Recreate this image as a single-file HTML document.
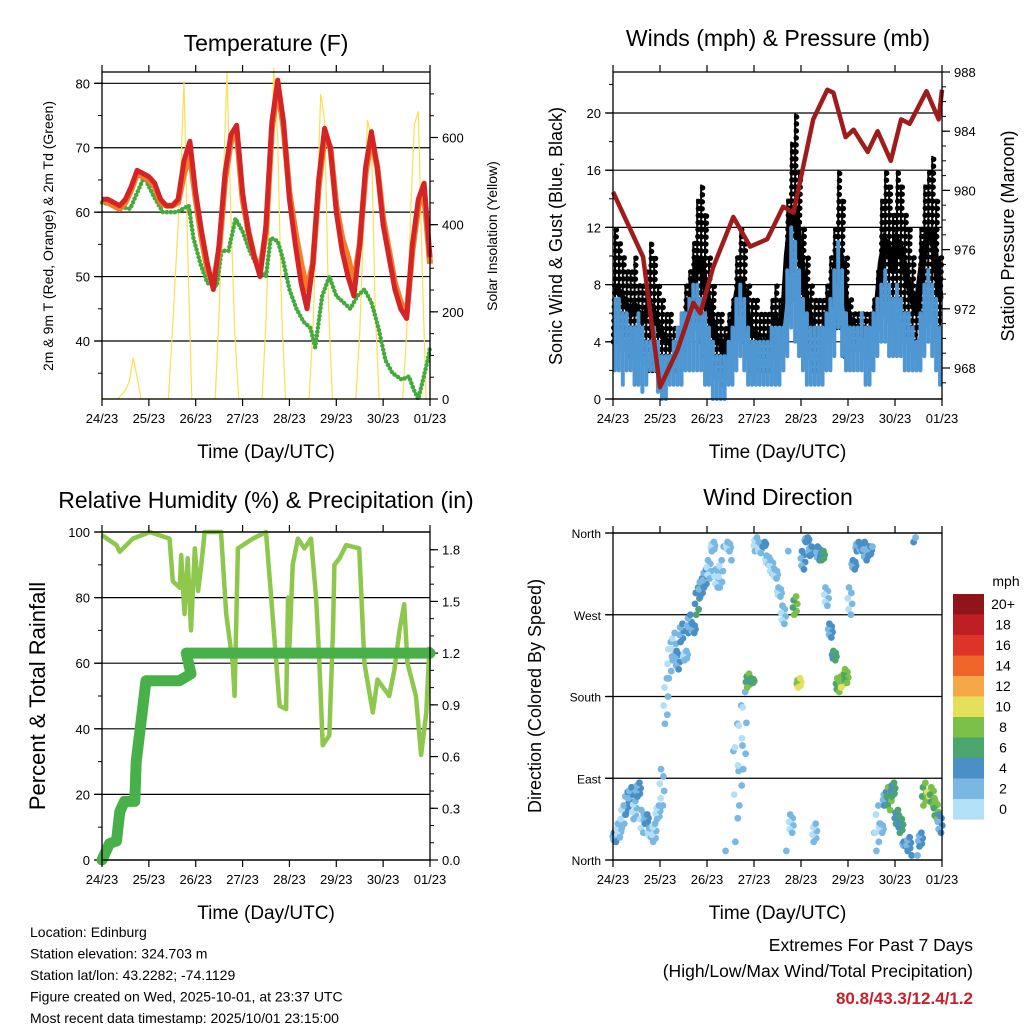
<!DOCTYPE html>
<html><head><meta charset="utf-8"><style>
html,body{margin:0;padding:0;background:#fff;}
svg{display:block;font-family:"Liberation Sans",Arial,sans-serif;}
</style></head><body>
<svg id="c" width="1024" height="1024" viewBox="0 0 1024 1024" xmlns="http://www.w3.org/2000/svg">
<rect width="1024" height="1024" fill="#fff"/>
<g id="g"></g>
</svg>
<script>
// ---------- DATA ----------
const dayLabels = ["24/23","25/23","26/23","27/23","28/23","29/23","30/23","01/23"];
const temp9m = [62,62,61.5,61,62,64,66.5,66,65.5,64.5,62,61,61,62,68,71,63,57,52,48,55,66,72,73.5,63,57,53,50,58,74,80.5,74,62,55,49,45,52,65,73,70,60,54,50,47,55,67,72.5,67,58,53,48,45,43.5,55,62,64.5,53];
const temp2m = [62,61.5,61,60.5,61.5,63.5,66,65.5,65,64,61.5,61,61,61.5,66,69,62,56,51,49,54,65,71,72.5,62,57,53,51,57,73,79.5,73,63,57,52,48,52,64,72,70,61,56,53,49,55,66,71.5,67,59,54,49,46,44,54,61,63,52];
const dewT = [0,0.3,0.6,0.9,1.1,1.3,1.6,1.85,1.95,2.1,2.25,2.45,2.55,2.7,2.85,3.0,3.15,3.35,3.5,3.6,3.75,3.85,4.0,4.15,4.3,4.45,4.55,4.7,4.85,5.0,5.15,5.3,5.45,5.6,5.75,5.9,6.05,6.2,6.4,6.55,6.65,6.75,6.85,6.95,7.0];
const dewV = [61.5,61,60.5,65.5,62.5,60,60,61,56,52,49,48.5,54,54,59,57,54,51,50,56,55.5,53,48,45,43,42,39,47,50,47,46,45,47,48,46,42,37,35,34,34.5,32.5,31,34,37,39];
const solar = [
 0,0,0,0,0,10,20,40,95,50,0,0,
 0,0,0,0,0,0,150,320,480,730,320,0,
 0,0,0,0,0,0,200,480,750,420,150,0,
 0,0,0,0,0,0,180,450,760,600,200,0,
 0,0,0,0,0,0,160,420,700,640,220,0,
 0,0,0,0,0,0,150,400,640,600,200,0,
 0,0,0,0,0,0,150,420,630,660,300,0,0];
const gustHi = [12,11,10,9,9,10,8,8,9,11,10,8, 7,6,6,5,5,6,8,9,11,14,15,13, 10,8,6,6,5,6,7,10,12,11,8,7, 7,6,6,6,7,8,7,8,14,18,20,16, 12,10,8,7,7,7,8,10,12,16,14,10, 7,6,6,6,6,6,7,9,14,16,15,13, 16,15,13,12,10,8,12,15,16,17,14,10];
const gustLo = [4,4,4,4,3,3,4,3,3,2,2,2, 2,2,2,2,2,3,3,4,5,5,4,3, 3,2,2,2,1,2,3,4,5,4,3,2, 2,2,2,2,2,3,2,3,6,7,7,6, 5,3,3,2,2,2,3,4,5,5,5,3, 4,4,4,4,3,3,4,4,5,6,6,5, 6,6,5,4,4,4,5,6,7,6,5,4];
const windHi = [7,7,6,6,5,5,6,5,4,4,5,4, 3,3,3,4,5,6,6,7,8,8,7,6, 5,4,3,3,3,4,5,7,8,7,5,4, 4,4,4,4,5,5,5,5,9,12,11,9, 7,6,5,5,5,5,6,7,9,11,9,6, 5,5,5,6,5,5,6,7,8,9,8,7, 8,7,6,6,5,4,6,8,9,8,7,5];
const windLo = [2,2,1,2,2,1,1,0.5,1,2,2,0.5, 0,0,1,1,1,1,2,2,2,2,2,1, 1,0,0,0,0,1,1,2,3,2,1,1, 1,1,1,1,1,1,1,2,3,5,4,3, 2,1,1,1,1,1,2,2,3,5,3,2, 2,2,2,2,1,1,2,3,4,4,3,3, 3,3,2,2,2,2,2,3,4,3,2,1];
const presT = [0,0.64,1.0,1.37,1.71,1.86,2.13,2.56,2.92,3.28,3.62,3.84,4.26,4.56,4.69,4.95,5.12,5.42,5.63,5.91,6.13,6.31,6.67,6.93,7.0];
const presV = [979.9,975.5,966.7,969.2,972.4,971.7,974.8,978.2,976.2,976.7,978.9,978.5,984.8,986.8,986.6,983.6,984.1,982.6,984.0,982.0,984.8,984.5,986.7,984.8,986.8];
const rhT = [0,.31,.38,.66,1.02,1.44,1.51,1.66,1.69,1.76,1.83,1.90,1.98,2.05,2.12,2.19,2.54,2.65,2.79,2.83,2.90,3.22,3.50,3.61,3.72,3.79,3.93,3.97,4.00,4.07,4.18,4.32,4.46,4.57,4.64,4.71,4.85,4.93,4.96,5.07,5.21,5.49,5.60,5.78,5.88,6.13,6.24,6.35,6.45,6.52,6.70,6.81,6.92,6.99];
const rhV = [99,96,94,98,100,98,85,83,93,75,92,70,95,82,90,100,100,75,60,50,95,98,100,80,60,47,46,80,65,90,98,95,98,80,60,35,38,70,90,92,96,95,60,45,55,50,58,70,78,60,50,32,45,65];
const prT = [0,0.16,0.31,0.38,0.48,0.70,0.73,0.84,0.94,1.65,1.9,1.8,7.0];
const prV = [0,0.095,0.11,0.28,0.34,0.34,0.57,0.82,1.04,1.04,1.08,1.2,1.2];
const dir1 = [30,40,35,50,60,45,70,55,40,35,20,45, 100,150,200,220,230,240,220,250,260,270,290,300, 330,340,320,300,345,350,330,20,60,100,190,200, 340,350,345,335,330,320,300,280,10,50,270,190, 340,350,335,20,345,330,300,260,230,200,190,210, 300,330,340,345,350,335,345,10,40,60,80,70, 40,30,20,10,5,355,15,60,75,80,65,50];
const dir2 = [20,25,60,75,80,65,85,30,50,25,40,60, 60,200,240,250,210,260,230,270,250,300,310,320, 310,350,300,330,10,340,120,150,170,185,205,195, 355,338,350,325,315,310,290,260,340,30,290,200, 320,355,345,40,330,340,280,245,220,185,205,195, 270,320,350,340,330,345,30,60,30,75,55,85, 55,45,15,25,350,5,30,85,70,60,45,30];
const dirSpd = [4,3,3,4,5,3,4,3,4,2,3,3, 2,3,3,3,4,4,3,4,5,6,5,5, 3,3,2,3,2,3,2,2,3,3,8,7, 3,3,4,3,3,3,3,2,2,3,9,10, 4,5,4,3,4,6,3,4,6,9,10,8, 3,4,4,4,4,4,2,3,3,4,8,7, 7,6,5,4,4,3,4,8,10,9,8,5];
const spdLabels = ["20+","18","16","14","12","10","8","6","4","2","0"];
const spdColors = ["#901518","#be1e24","#dc3428","#f0652a","#f5a845","#e5e05a","#7cc04a","#4aa56f","#4a8fc5","#7ab8e4","#b3e0f7"];

// ---------- HELPERS ----------
const NS="http://www.w3.org/2000/svg";
const G=document.getElementById('g');
function mk(tag,attrs,parent){const e=document.createElementNS(NS,tag);for(const k in attrs)e.setAttribute(k,attrs[k]);(parent||G).appendChild(e);return e;}
function txt(s,x,y,size,anchor,extra){const e=mk('text',Object.assign({x:x,y:y,'font-size':size,'text-anchor':anchor||'middle',fill:'#000'},extra||{}));e.textContent=s;return e;}
function lin(a,b,c,d){return v=>c+(v-a)*(d-c)/(b-a);}
function poly(pts,attrs){return mk('polyline',Object.assign({points:pts.map(p=>p[0].toFixed(1)+','+p[1].toFixed(1)).join(' '),fill:'none'},attrs));}

function frame(P,name){
  const r=mk('rect',{x:P.x0,y:P.y0,width:P.x1-P.x0,height:P.y1-P.y0,fill:'none',stroke:'#000','stroke-width':1.3});
  
  
  const sx=lin(0,7,P.x0,P.x1);
  for(let i=0;i<=7;i++){
    const x=sx(i);
    mk('line',{x1:x,y1:P.y1,x2:x,y2:P.y1+7,stroke:'#000','stroke-width':1.2});
    mk('line',{x1:x,y1:P.y0,x2:x,y2:P.y0-7,stroke:'#000','stroke-width':1.2});
    const t=txt(dayLabels[i],x,P.y1+24,13);
    
    
  }
  const xt=txt('Time (Day/UTC)',(P.x0+P.x1)/2,P.y1+59,19);
  
  
}
function yaxis(P,side,sy,majors,labels,minors,grid,size){
  const x=side==='l'?P.x0:P.x1, d=side==='l'?-1:1;
  minors.forEach(v=>mk('line',{x1:x,y1:sy(v),x2:x+d*4,y2:sy(v),stroke:'#000','stroke-width':1}));
  majors.forEach((v,i)=>{
    const y=sy(v);
    mk('line',{x1:x,y1:y,x2:x+d*8,y2:y,stroke:'#000','stroke-width':1.2});
    if(grid) mk('line',{x1:P.x0-7,y1:y,x2:P.x1,y2:y,stroke:'#000','stroke-width':1.2});
    const t=txt(labels[i],x+d*12,y+5,size||13,side==='l'?'end':'start');
    
    
  });
}
function rng(a,b,s){const r=[];for(let v=a;v<=b+1e-9;v+=s)r.push(+v.toFixed(4));return r;}

// ---------- PANEL 1: TEMPERATURE ----------
(function(){
  const P={x0:102,x1:430,y0:72,y1:399};
  const sx=lin(0,7,P.x0,P.x1), sy=lin(80,40,83.3,341), sr=lin(0,600,399,137.5);
  const t=txt('Temperature (F)',266,51,23);  
  yaxis(P,'l',sy,[40,50,60,70,80],['40','50','60','70','80'],rng(35,80,5),true);
  yaxis(P,'r',sr,[0,200,400,600],['0','200','400','600'],rng(0,700,50),false);
  const sp=poly(solar.map((v,i)=>[sx(i/12),sr(v)]),{stroke:'#f9df55','stroke-width':1.2});
   
  const dp=poly(dewT.map((v,i)=>[sx(v),sy(dewV[i])]),{stroke:'#44aa3c','stroke-width':4.5,'stroke-dasharray':'0 4','stroke-linecap':'round'});
   
  const op=poly(temp2m.map((v,i)=>[sx(i/8),sy(v)]),{stroke:'#f47b2a','stroke-width':6,'stroke-linejoin':'round'});
   
  const rp=poly(temp9m.map((v,i)=>[sx(i/8),sy(v)]),{stroke:'#d42426','stroke-width':5,'stroke-linejoin':'round'});
   
  frame(P,'temperature');
  const a=txt('2m & 9m T (Red, Orange) & 2m Td (Green)',0,0,14,'middle',{transform:'translate(53,236) rotate(-90)'});
   
  const b=txt('Solar Insolation (Yellow)',0,0,14,'middle',{transform:'translate(497,236) rotate(-90)'});
   
})();

// ---------- PANEL 2: WINDS ----------
(function(){
  const P={x0:613,x1:942,y0:72,y1:399};
  const sx=lin(0,7,P.x0,P.x1), sy=lin(0,20,399,113), sp=lin(968,988,368,72);
  const t=txt('Winds (mph) & Pressure (mb)',778,46,23);  
  yaxis(P,'l',sy,[0,4,8,12,16,20],['0','4','8','12','16','20'],rng(0,22,2),true);
  yaxis(P,'r',sp,[968,972,976,980,984,988],['968','972','976','980','984','988'],rng(967,988,1),false);
  const gg=mk('g',{});  
  gustHi.forEach((v,i)=>{const x=sx((i+0.5)/12);
    mk('line',{x1:x-1.5,y1:sy(gustLo[i]),x2:x+1.5,y2:sy(v),stroke:'#000','stroke-width':5.5,'stroke-linecap':'round','stroke-dasharray':'0 7'},gg);
    mk('line',{x1:x,y1:sy(gustLo[i]),x2:x,y2:sy(v),stroke:'#000','stroke-width':2},gg);});
  const bl=poly(gustHi.map((v,i)=>[sx((i+0.5)/12),sy((v+gustLo[i])/2)]),{stroke:'#000','stroke-width':7});
   
  const wg=mk('g',{});  
  windHi.forEach((v,i)=>{const x=sx((i+0.5)/12);
    mk('line',{x1:x,y1:sy(windLo[i]),x2:x,y2:sy(v),stroke:'#4f97d2','stroke-width':4,'stroke-linecap':'round'},wg);});
  const wl=poly(windHi.map((v,i)=>[sx((i+0.5)/12),sy((v+windLo[i])/2)]),{stroke:'#4f97d2','stroke-width':6});
   
  const pl=poly(presT.map((v,i)=>[sx(v),sp(presV[i])]),{stroke:'#a01c1c','stroke-width':4.5,'stroke-linejoin':'round'});
   
  frame(P,'winds');
  const a=txt('Sonic Wind & Gust (Blue, Black)',0,0,18,'middle',{transform:'translate(562,236) rotate(-90)'});
   
  const b=txt('Station Pressure (Maroon)',0,0,18,'middle',{transform:'translate(1014,236) rotate(-90)'});
   
})();

// ---------- PANEL 3: RH ----------
(function(){
  const P={x0:102,x1:430,y0:532,y1:860};
  const sx=lin(0,7,P.x0,P.x1), sy=lin(0,100,860,532), sr=lin(0,1.8,860,549.7);
  const t=txt('Relative Humidity (%) & Precipitation (in)',266,508,23);  
  yaxis(P,'l',sy,[0,20,40,60,80,100],['0','20','40','60','80','100'],rng(0,100,10),true);
  yaxis(P,'r',sr,[0,0.3,0.6,0.9,1.2,1.5,1.8],['0.0','0.3','0.6','0.9','1.2','1.5','1.8'],rng(0,1.8,0.1),false);
  const rl=poly(rhT.map((v,i)=>[sx(v),sy(rhV[i])]),{stroke:'#8dc84c','stroke-width':4.5,'stroke-linejoin':'round'});
   
  const pl=poly(prT.map((v,i)=>[sx(v),sr(prV[i])]),{stroke:'#48b048','stroke-width':11,'stroke-linejoin':'round','stroke-linecap':'round'});
   
  frame(P,'rh');
  const a=txt('Percent & Total Rainfall',0,0,22,'middle',{transform:'translate(45,696) rotate(-90)'});
   
})();

// ---------- PANEL 4: WIND DIRECTION ----------
(function(){
  const P={x0:613,x1:942,y0:533,y1:860};
  const sx=lin(0,7,P.x0,P.x1), sy=lin(0,360,860,533);
  const t=txt('Wind Direction',778,505,23);  
  yaxis(P,'l',sy,[0,90,180,270,360],['North','East','South','West','North'],[],true,12);
  function col(s){const k=Math.min(10,Math.floor(s/2));return spdColors[10-k];}
  const dg=mk('g',{});  
  dir1.forEach((v,i)=>{
    const a=v, b=dir2[i];
    const x=sx((i+0.25)/12), x2=sx((i+0.75)/12);
    if(Math.abs(a-b)<=180){
      for(let k=1;k<5;k++){const f=k/5;
        mk('circle',{cx:x+(x2-x)*f+(k%2?2:-2),cy:sy(a+(b-a)*f),r:3.4,fill:col(k%2?dirSpd[i]:Math.max(0,dirSpd[i]-1.5))},dg);}
    }
    mk('circle',{cx:x,cy:sy(a),r:3.4,fill:col(dirSpd[i])},dg);
    mk('circle',{cx:x2,cy:sy(b),r:3.4,fill:col(dirSpd[i])},dg);
  });
  frame(P,'wind-direction');
  const a=txt('Direction (Colored By Speed)',0,0,18,'middle',{transform:'translate(541,696) rotate(-90)'});
   
  const lg=mk('g',{});  
  spdLabels.forEach((l,i)=>{
    const y=594+i*20.5;
    mk('rect',{x:953,y:y,width:31,height:20.6,fill:spdColors[i]},lg);
    const tt=txt(l,1003,y+15,14,'middle',{});
     
  });
  const m=txt('mph',1006,586,14);  
})();

// ---------- FOOTER ----------
const info=["Location: Edinburg","Station elevation: 324.703 m","Station lat/lon: 43.2282; -74.1129","Figure created on Wed, 2025-10-01, at 23:37 UTC","Most recent data timestamp: 2025/10/01 23:15:00"];
info.forEach((s,i)=>{const e=txt(s,30,937+i*21.5,14,'start');
  
  });
const e1=txt('Extremes For Past 7 Days',973,951,17.5,'end');
 
const e2=txt('(High/Low/Max Wind/Total Precipitation)',973,977,17.5,'end');
 
const e3=txt('80.8/43.3/12.4/1.2',973,1004,17,'end',{fill:'#c8202a','font-weight':'bold'});
 
</script>
</body></html>
